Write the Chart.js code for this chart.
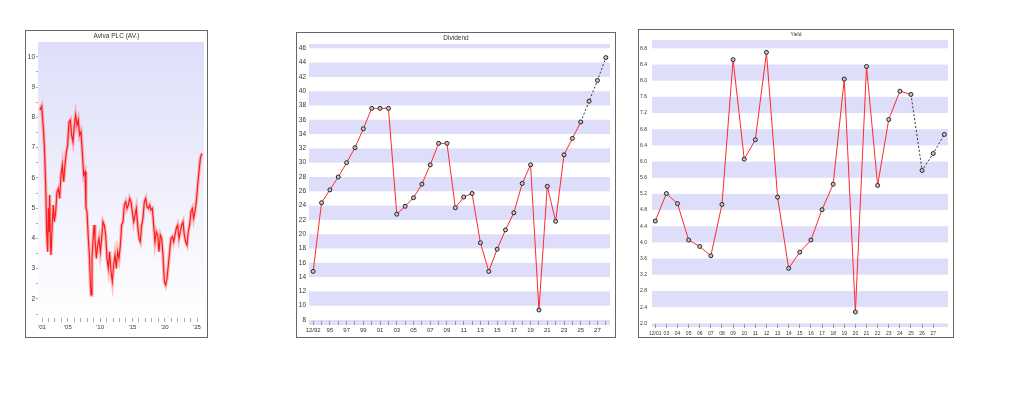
<!DOCTYPE html>
<html>
<head>
<meta charset="utf-8">
<script src="https://cdn.jsdelivr.net/npm/chart.js@4"></script>
<style>
  body { margin: 0; background: #fff; width: 1024px; height: 397px; position: relative; overflow: hidden; }
  .box { position: absolute; border: 1px solid #666; background: #fff; }
  .box canvas { display: block; }
</style>
</head>
<body>
<div class="box" style="left:25px; top:30px;"><canvas id="priceChart" width="181" height="306"></canvas></div>
<div class="box" style="left:296px; top:32px;"><canvas id="dividendChart" width="318" height="304"></canvas></div>
<div class="box" style="left:638px; top:29px;"><canvas id="yieldChart" width="314" height="307"></canvas></div>
<script>
  //Price
  const priceYears = [2000.69, 2000.95, 2001.21, 2001.36, 2001.57, 2001.72, 2001.88, 2001.98, 2002.08, 2002.19,
    2002.29, 2002.39, 2002.60, 2002.75, 2002.91, 2003.12, 2003.32, 2003.53, 2003.73, 2003.94,
    2004.15, 2004.35, 2004.56, 2004.77, 2004.97, 2005.18, 2005.39, 2005.59, 2005.80, 2006.01,
    2006.21, 2006.42, 2006.62, 2006.83, 2007.04, 2007.24, 2007.45, 2007.66, 2007.81, 2007.97,
    2008.17, 2008.33, 2008.48, 2008.59, 2008.74, 2008.89, 2009.05, 2009.20,
    2009.41, 2009.62, 2009.82, 2010.03, 2010.24, 2010.44, 2010.65, 2010.86, 2011.06, 2011.27,
    2011.47, 2011.68, 2011.89, 2012.09, 2012.30, 2012.51, 2012.71, 2012.92, 2013.13, 2013.33,
    2013.54, 2013.74, 2013.95, 2014.16, 2014.36, 2014.57, 2014.78, 2014.98, 2015.19, 2015.40,
    2015.60, 2015.81, 2016.02, 2016.22, 2016.43, 2016.63, 2016.84, 2017.05, 2017.25, 2017.46,
    2017.67, 2017.87, 2018.08, 2018.29, 2018.49, 2018.70, 2018.91, 2019.11, 2019.32, 2019.52,
    2019.73, 2019.94, 2020.14, 2020.35, 2020.56, 2020.76, 2020.97, 2021.18, 2021.38, 2021.59,
    2021.79, 2022.00, 2022.21, 2022.41, 2022.62, 2022.83, 2023.03, 2023.24, 2023.45, 2023.65,
    2023.86, 2024.06, 2024.27, 2024.48, 2024.68, 2024.89, 2025.10, 2025.30, 2025.51, 2025.72];
  const priceValues = [8.24, 8.37, 7.63, 7.08, 5.76, 4.22, 3.56, 5.0, 4.22, 5.43,
    3.89, 3.45, 4.55, 5.10, 4.55, 4.88, 5.54, 5.65, 5.32, 6.09,
    6.42, 5.87, 6.42, 6.86, 7.08, 7.85, 7.91, 7.41, 7.19, 7.74,
    8.07, 7.74, 7.91, 7.41, 7.52, 6.86, 6.09, 6.20, 5.0, 4.88,
    4.0, 3.45, 2.57, 2.13, 3.34, 3.89, 4.44, 4.0,
    3.34, 3.78, 4.0, 3.56, 4.0, 4.55, 4.44, 4.11, 3.34, 3.01,
    3.56, 2.90, 2.57, 3.12, 3.45, 3.01, 3.56, 3.34, 3.78, 4.44,
    4.55, 5.10, 5.21, 4.99, 5.10, 5.32, 5.21, 4.88, 4.55, 4.77,
    4.99, 4.44, 4.0, 3.89, 4.44, 4.66, 5.21, 5.32, 5.05, 4.99,
    5.10, 4.94, 4.99, 4.44, 3.89, 4.22, 4.11, 3.56, 4.11, 4.0,
    3.45, 2.57, 2.46, 2.68, 3.12, 3.56, 4.0, 4.06, 3.89, 4.11,
    4.33, 4.44, 4.0, 4.22, 4.44, 4.55, 4.11, 3.89, 3.78, 4.22,
    4.44, 4.88, 4.99, 4.66, 4.88, 5.21, 5.76, 6.20, 6.64, 6.81];
  const priceLabelYears = [2001, 2005, 2010, 2015, 2020, 2025];
  const priceYTicks = [1.5, 2, 2.5, 3, 3.5, 4, 4.5, 5, 5.5, 6, 6.5, 7, 7.5, 8, 8.5, 9, 9.5, 10];

  //Dividend
  const divLabels = ['12/92', '94', '95', '96', '97', '98', '99', '00', '01', '02', '03', '04', '05', '06', '07', '08', '09', '10',
    '11', '12', '13', '14', '15', '16', '17', '18', '19', '20', '21', '22', '23', '24', '25', '26', '27', '28'];
  const divValues = [14.8, 24.4, 26.2, 28.0, 30.0, 32.1, 34.75, 37.6, 37.6, 37.6, 22.8, 23.9, 25.1, 27.0, 29.7, 32.7, 32.7, 23.7,
    25.2, 25.7, 18.8, 14.8, 17.9, 20.6, 23.0, 27.1, 29.7, 9.4, 26.7, 21.8, 31.1, 33.4, 35.7, 38.6, 41.5, 44.7];
  const divForecastFrom = 32;
  const divYTicks = [8, 10, 12, 14, 16, 18, 20, 22, 24, 26, 28, 30, 32, 34, 36, 38, 40, 42, 44, 46];

  //Yield
  const yieldLabels = ['12/01', '03', '04', '05', '06', '07', '08', '09', '10', '11', '12', '13', '14', '15',
    '16', '17', '18', '19', '20', '21', '22', '23', '24', '25', '26', '27', ''];
  const yieldValues = [4.53, 5.21, 4.96, 4.06, 3.90, 3.67, 4.94, 8.52, 6.06, 6.54, 8.70, 5.12, 3.36, 3.76,
    4.06, 4.81, 5.44, 8.04, 2.28, 8.35, 5.41, 7.04, 7.74, 7.66, 5.78, 6.20, 6.67];
  const yieldForecastFrom = 23;
  const yieldYTicks = [2.0, 2.4, 2.8, 3.2, 3.6, 4.0, 4.4, 4.8, 5.2, 5.6, 6.0, 6.4, 6.8, 7.2, 7.6, 8.0, 8.4, 8.8];

  const FONT = "'Liberation Sans', Arial, sans-serif";
  Chart.defaults.font.family = FONT;
  Chart.defaults.font.size = 6.5;
  Chart.defaults.color = '#333';

  const boxTitle = {
    id: 'boxTitle',
    afterDraw(chart, args, opts) {
      const c = chart.ctx;
      c.save();
      c.font = (opts.size || 6.5) + 'px ' + FONT;
      c.fillStyle = '#333';
      c.textAlign = 'center';
      c.textBaseline = 'middle';
      c.fillText(opts.text, chart.width / 2, 5);
      c.restore();
    }
  };

  const bands = {
    id: 'bands',
    beforeDraw(chart, args, opts) {
      const a = chart.chartArea, y = chart.scales.y, c = chart.ctx;
      const bottom = a.bottom + opts.extra;
      c.save();
      c.fillStyle = opts.color;
      for (let v = opts.from; v < y.max + opts.size; v += opts.size * 2) {
        const top = Math.max(a.top, y.getPixelForValue(v + opts.size));
        const bot = Math.min(bottom, y.getPixelForValue(v));
        if (bot > top) c.fillRect(a.left, top, a.right - a.left, bot - top);
      }
      c.restore();
    }
  };

  const fade = {
    id: 'fade',
    beforeDraw(chart) {
      const a = chart.chartArea, c = chart.ctx;
      const g = c.createLinearGradient(0, a.top, 0, a.bottom);
      g.addColorStop(0, 'rgb(222,222,250)');
      g.addColorStop(1, '#ffffff');
      c.save();
      c.fillStyle = g;
      c.fillRect(a.left, a.top, a.right - a.left, a.bottom - a.top);
      c.restore();
    }
  };

  const pricePoints = priceYears.map((x, i) => ({ x: x, y: priceValues[i] }));
  const tickYears = [];
  for (let yr = 2001; yr <= 2025; yr++) tickYears.push(yr);

  const priceCtx = document.getElementById('priceChart').getContext('2d');
  const priceChart = new Chart(priceCtx, {
    type: 'line',
    data: {
      datasets: [{
        data: pricePoints,
        borderColor: '#ff1a1a',
        borderWidth: 1.2,
        pointRadius: 0
      },
      {
        data: pricePoints,
        borderColor: 'rgba(255,90,90,0.38)',
        borderWidth: 3.5,
        pointRadius: 0
      }]
    },
    options: {
      responsive: false,
      animation: false,
      layout: { padding: { top: 11, right: 3, left: 0, bottom: 0 } },
      plugins: { legend: { display: false }, tooltip: { enabled: false }, boxTitle: { text: 'Aviva PLC (AV.)' } },
      scales: {
        x: {
          type: 'linear', min: 2000.38, max: 2026.08,
          afterBuildTicks: s => { s.ticks = tickYears.map(v => ({ value: v })); },
          afterFit: s => { s.height = 19; },
          grid: { drawOnChartArea: false, tickLength: 4, color: '#aaa' },
          border: { display: false },
          ticks: { autoSkip: false, maxRotation: 0, padding: 2, font: { size: 6 },
            callback: v => priceLabelYears.includes(v) ? "'" + String(v).slice(2) : '' }
        },
        y: {
          min: 1.37, max: 10.49,
          afterBuildTicks: s => { s.ticks = priceYTicks.map(v => ({ value: v })); },
          afterFit: s => { s.width = 12; },
          grid: { drawOnChartArea: false, tickLength: 2, color: '#aaa' },
          border: { display: false },
          ticks: { padding: 1, callback: v => Number.isInteger(v) ? v : '' }
        }
      }
    },
    plugins: [fade, boxTitle]
  });

  //Dividend chart
  const divCtx = document.getElementById('dividendChart').getContext('2d');
  const divChart = new Chart(divCtx, {
    type: 'line',
    data: {
      datasets: [{
        data: divValues.map((v, i) => ({ x: i, y: v })),
        borderColor: '#ff2a2a',
        borderWidth: 1,
        pointRadius: 2,
        pointBorderWidth: 1,
        pointBackgroundColor: '#c8c8c8',
        pointBorderColor: '#222',
        segment: {
          borderColor: c => c.p0DataIndex >= divForecastFrom ? '#333' : undefined,
          borderDash: c => c.p0DataIndex >= divForecastFrom ? [2, 2] : undefined
        }
      }]
    },
    options: {
      responsive: false,
      animation: false,
      layout: { padding: { top: 11, right: 1, left: 0, bottom: 0 } },
      plugins: {
        legend: { display: false }, tooltip: { enabled: false },
        boxTitle: { text: 'Dividend' },
        bands: { from: 6, size: 2, extra: 4, color: 'rgb(222,222,251)' }
      },
      scales: {
        x: {
          type: 'linear', min: -0.5, max: 35.5,
          afterBuildTicks: s => { s.ticks = divLabels.map((l, i) => ({ value: i })); },
          afterFit: s => { s.height = 16; },
          grid: { drawOnChartArea: false, tickLength: 4, color: '#999' },
          border: { display: false },
          ticks: { autoSkip: false, maxRotation: 0, padding: 2, font: { size: 6 },
            callback: (v, i) => i % 2 === 0 ? divLabels[i] : '' }
        },
        y: {
          min: 7.86, max: 46.6,
          afterBuildTicks: s => { s.ticks = divYTicks.map(v => ({ value: v })); },
          afterFit: s => { s.width = 12; },
          grid: { display: false, drawTicks: false },
          border: { display: false },
          ticks: { padding: 3 }
        }
      }
    },
    plugins: [bands, boxTitle]
  });

  //Yield chart
  const yieldCtx = document.getElementById('yieldChart').getContext('2d');
  const yieldChart = new Chart(yieldCtx, {
    type: 'line',
    data: {
      datasets: [{
        data: yieldValues.map((v, i) => ({ x: i, y: v })),
        borderColor: '#ff2a2a',
        borderWidth: 1,
        pointRadius: 2,
        pointBorderWidth: 1,
        pointBackgroundColor: '#c8c8c8',
        pointBorderColor: '#222',
        segment: {
          borderColor: c => c.p0DataIndex >= yieldForecastFrom ? '#333' : undefined,
          borderDash: c => c.p0DataIndex >= yieldForecastFrom ? [2, 2] : undefined
        }
      }]
    },
    options: {
      responsive: false,
      animation: false,
      layout: { padding: { top: 10, right: 3, left: 0, bottom: 0 } },
      plugins: {
        legend: { display: false }, tooltip: { enabled: false },
        boxTitle: { text: 'Yield', size: 5 },
        bands: { from: 1.6, size: 0.4, extra: 3, color: 'rgb(222,222,251)' }
      },
      scales: {
        x: {
          type: 'linear', min: -0.295, max: 26.33,
          afterBuildTicks: s => {
            s.ticks = yieldLabels.map((l, i) => ({ value: i })).filter(t => yieldLabels[t.value] !== '');
          },
          afterFit: s => { s.height = 13; },
          grid: { drawOnChartArea: false, tickLength: 4, color: '#999' },
          border: { display: false },
          ticks: { autoSkip: false, maxRotation: 0, padding: 3, font: { size: 5 },
            callback: v => yieldLabels[v] }
        },
        y: {
          min: 1.983, max: 9.006,
          afterBuildTicks: s => { s.ticks = yieldYTicks.map(v => ({ value: v })); },
          afterFit: s => { s.width = 13; },
          grid: { display: false, drawTicks: false },
          border: { display: false },
          ticks: { padding: 5, font: { size: 5 }, callback: v => v.toFixed(1) }
        }
      }
    },
    plugins: [bands, boxTitle]
  });
</script>
</body>
</html>
